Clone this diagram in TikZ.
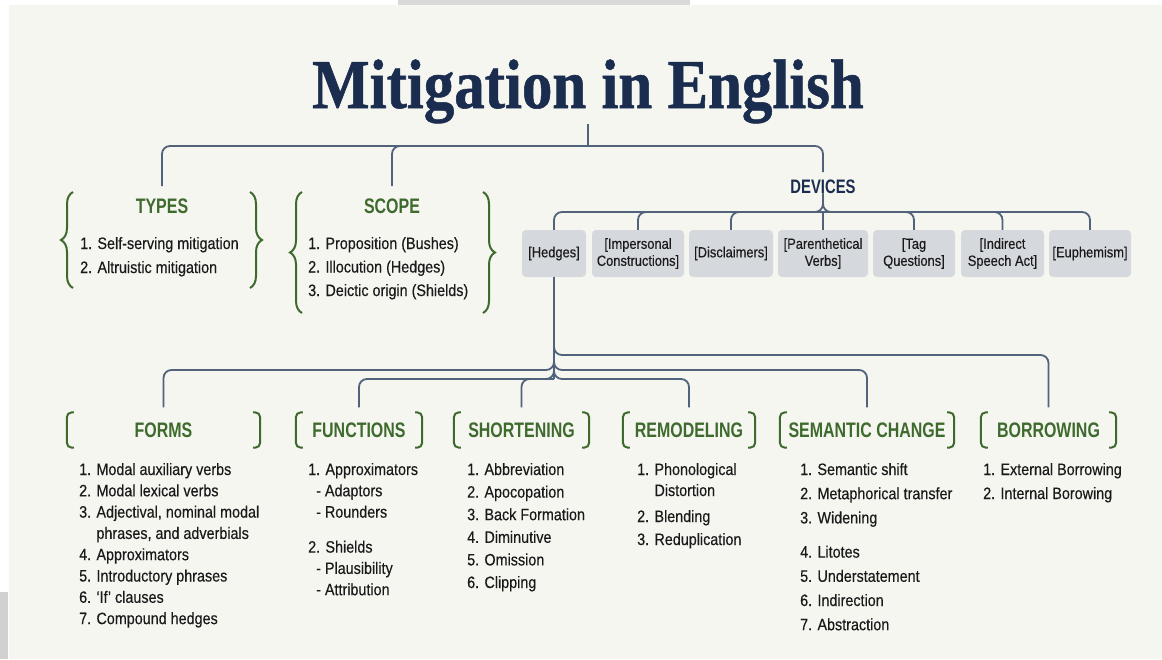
\documentclass[tikz,border=0pt]{standalone}
\usepackage{fontspec}
\setmainfont{Liberation Sans}[FakeStretch=0.87,FakeBold=0.35]
\newfontfamily\headfont{Liberation Sans}[FakeStretch=0.76]
\newfontfamily\titlefont{Liberation Serif}[FakeStretch=0.87,FakeBold=0.8]
\usetikzlibrary{decorations.pathreplacing,calc}
\definecolor{bgc}{HTML}{F6F6F1}
\definecolor{navy}{HTML}{1B2D4F}
\definecolor{lnc}{HTML}{51637B}
\definecolor{grn}{HTML}{3E6A2D}
\definecolor{boxc}{HTML}{D5D8DC}
\definecolor{txt}{HTML}{1A1A1A}
\newcommand{\itemlist}[2]{\vtop{\baselineskip=#1\lineskiplimit=-20pt\lineskip=0pt\relax #2}}
\newcommand{\bkt}[1]{%
  \draw[brk] ([xshift=7pt]#1.north west) -- (#1.north west) -- (#1.south west) -- ([xshift=7pt]#1.south west);
  \draw[brk] ([xshift=-7pt]#1.north east) -- (#1.north east) -- (#1.south east) -- ([xshift=-7pt]#1.south east);}
\begin{document}
\begin{tikzpicture}[x=1pt,y=-1pt,
  conn/.style={draw=lnc, line width=1.8pt, rounded corners=8pt},
  ttl/.style={font=\titlefont\bfseries\fontsize{70}{70}\selectfont, text=navy, inner sep=0},
  hd/.style={font=\headfont\bfseries\fontsize{21}{21}\selectfont, text=grn, inner sep=0},
  hdbox/.style={font=\headfont\bfseries\fontsize{21}{21}\selectfont, text=grn, inner sep=0, minimum height=35pt},
  brk/.style={draw=grn, line width=2pt, rounded corners=5pt},
  brc/.style={draw=grn, line width=2pt, decorate, decoration={brace, amplitude=12pt, aspect=0.5}},
  lst/.style={font=\fontsize{16.5}{21}\selectfont, text=txt, inner sep=0, anchor=base west},
  dev/.style={fill=boxc, rounded corners=4pt, minimum height=47pt, inner sep=0, font=\fontsize{14.8}{17}\selectfont, text=txt, align=center},
]
\fill[white] (0,0) rectangle (1162,659);
\useasboundingbox (0,0) rectangle (1162,659);
\fill[bgc] (9,5) rectangle (1162,659);
\fill[black!15] (398,0) rectangle (690,5);
\fill[black!18] (0,592) rectangle (8,659);

% title
\node[ttl, anchor=base] (title) at (588,108) {Mitigation in English};
\coordinate (tj) at (588,146);

% top headings
\node[hd, anchor=base] (types) at (162,213) {TYPES};
\node[hd, anchor=base] (scope) at (392,213) {SCOPE};
\node[hd, text=navy, font=\headfont\bfseries\fontsize{19.5}{19.5}\selectfont, anchor=base] (devices) at (823,193) {DEVICES};

\draw[conn] (title.south) -- (tj);
\draw[conn] ([yshift=12pt]types.north) |- (tj) -| ([yshift=7pt]devices.north);
\draw[conn] ([yshift=12pt]scope.north) |- (tj);

% braces
\draw[brc] (73,288) -- (73,192);
\draw[brc] (250,192) -- (250,288);
\draw[brc] (302,313) -- (302,192);
\draw[brc] (483,192) -- (483,313);

\node[lst] (typesl) at (80,249) {\itemlist{24pt}{\hbox{1. Self-serving mitigation}\hbox{2. Altruistic mitigation}}};
\node[lst] (scopel) at (308,249) {\itemlist{23.5pt}{\hbox{1. Proposition (Bushes)}\hbox{2. Illocution (Hedges)}\hbox{3. Deictic origin (Shields)}}};

% devices
\node[dev, minimum width=64pt] (hedges) at (554,253.5) {[Hedges]};
\node[dev, minimum width=92pt] (imp) at (638,253.5) {[Impersonal\\Constructions]};
\node[dev, minimum width=84pt] (disc) at (731,253.5) {[Disclaimers]};
\node[dev, minimum width=90pt] (paren) at (823,253.5) {[Parenthetical\\Verbs]};
\node[dev, minimum width=82pt] (tag) at (914,253.5) {[Tag\\Questions]};
\node[dev, minimum width=83pt] (ind) at (1002.5,253.5) {[Indirect\\Speech Act]};
\node[dev, minimum width=82pt] (euph) at (1090,253.5) {[Euphemism]};

\coordinate (dj) at (823,212);
\draw[conn] (hedges.north) |- (dj) -- (devices.south);
\draw[conn] (euph.north) |- (dj) -- (devices.south);
\draw[conn] (imp.north) |- (dj);
\draw[conn] (disc.north) |- (dj);
\draw[conn] (paren.north) -- (dj);
\draw[conn] (tag.north) |- (dj);
\draw[conn] (ind.north) |- (dj);

% bottom headings
\node[hdbox, minimum width=193pt] (forms) at (163.5,430) {FORMS};
\node[hdbox, minimum width=126pt] (func) at (359,430) {FUNCTIONS};
\node[hdbox, minimum width=135pt] (short) at (521.5,430) {SHORTENING};
\node[hdbox, minimum width=132pt] (remod) at (689,430) {REMODELING};
\node[hdbox, minimum width=174pt] (sem) at (867,430) {SEMANTIC CHANGE};
\node[hdbox, minimum width=135pt] (borrow) at (1048.5,430) {BORROWING};
\bkt{forms}\bkt{func}\bkt{short}\bkt{remod}\bkt{sem}\bkt{borrow}

\coordinate (j1) at (554,355);
\coordinate (j2) at (554,370);
\coordinate (j3) at (554,379);
\draw[conn] (hedges.south) -- (j3);
\draw[conn] (hedges.south) -- (j1) -| ([yshift=5pt]borrow.north);
\draw[conn] ([yshift=5pt]forms.north) |- (j2) -- (hedges.south);
\draw[conn] ([yshift=5pt]sem.north) |- (j2) -- (hedges.south);
\draw[conn] ([yshift=5pt]func.north) |- (j3) -- (hedges.south);
\draw[conn] ([yshift=5pt]remod.north) |- (j3) -- (hedges.south);
\draw[conn] ([yshift=5pt]short.north) |- (j3);

% lists
\node[lst] (formsl) at (79,475) {\itemlist{21.3pt}{%
  \hbox{1. Modal auxiliary verbs}\hbox{2. Modal lexical verbs}%
  \hbox{3. Adjectival, nominal modal}\hbox{\phantom{3. }phrases, and adverbials}%
  \hbox{4. Approximators}\hbox{5. Introductory phrases}%
  \hbox{6. ‘If’ clauses}\hbox{7. Compound hedges}}};
\node[lst] (funcl) at (308,475) {\itemlist{21.3pt}{%
  \hbox{1. Approximators}\hbox{\hskip8pt- Adaptors}\hbox{\hskip8pt- Rounders}%
  \vskip13.7pt\hbox{2. Shields}\hbox{\hskip8pt- Plausibility}\hbox{\hskip8pt- Attribution}}};
\node[lst] (shortl) at (467,475) {\itemlist{22.6pt}{%
  \hbox{1. Abbreviation}\hbox{2. Apocopation}\hbox{3. Back Formation}%
  \hbox{4. Diminutive}\hbox{5. Omission}\hbox{6. Clipping}}};
\node[lst] (remodl) at (637,475) {\itemlist{21pt}{%
  \hbox{1. Phonological}\hbox{\phantom{1. }Distortion}%
  \vskip5pt\hbox{2. Blending}\vskip2pt\hbox{3. Reduplication}}};
\node[lst] (seml) at (800,475) {\itemlist{24.2pt}{%
  \hbox{1. Semantic shift}\hbox{2. Metaphorical transfer}\hbox{3. Widening}%
  \vskip10pt\hbox{4. Litotes}\hbox{5. Understatement}\hbox{6. Indirection}\hbox{7. Abstraction}}};
\node[lst] (borrowl) at (983,475) {\itemlist{24pt}{%
  \hbox{1. External Borrowing}\hbox{2. Internal Borowing}}};
\end{tikzpicture}
\end{document}
